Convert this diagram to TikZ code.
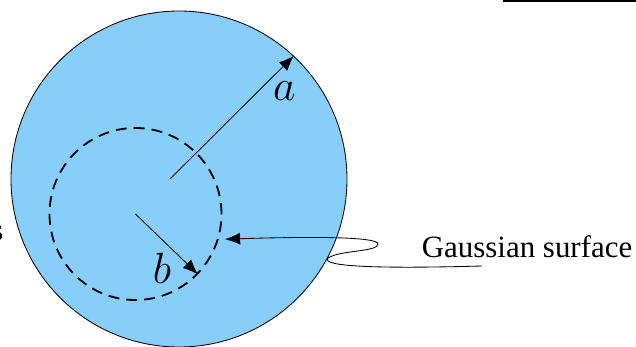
\documentclass[tikz,border=0pt]{standalone}
\usepackage{fontspec}
\setmainfont{Liberation Serif}
\usetikzlibrary{arrows.meta}
\definecolor{skyfill}{RGB}{135,206,250}
\newcommand{\biglbl}[1]{\scalebox{1.25}{$#1$}}

\begin{document}
\begin{tikzpicture}[
		ptr/.style={line width=.6pt,-{Latex[length=3.8mm,width=3mm]}},
		lbl/.style={font=\Huge,inner sep=0pt}
	]
			\useasboundingbox (0,0) rectangle (15.9,8.65);
			% sphere of charge
			\node[circle,draw,line width=.6pt,fill=skyfill,minimum size=8.4cm,inner sep=0pt] (outer) at (4.475,4.175) {};
			% gaussian surface
			\node[circle,draw,dash pattern=on 2.75mm off 1.75mm,line width=1.3pt,minimum size=4.3cm,inner sep=0pt] (inner) at (3.3875,3.3) {};
			% radius a
			\coordinate (astart) at (4.25,4.175);
			\draw[ptr] (astart) -- (outer.47);
			\node[lbl] (alabel) at (7.11,6.375) {\biglbl{a}};
			% radius b
			\draw[ptr] (inner.center) -- (inner.-44);
			\node[lbl] (blabel) at (4.05,1.95) {\biglbl{b}};
			% label
			\node[anchor=base west,inner sep=0pt,font=\fontsize{22}{26}\selectfont] (gauss) at (10.54,2.217) {Gaussian surface};
			\node[anchor=base east,inner sep=0pt,font=\fontsize{22}{26}\selectfont] (cut) at (0.09,2.65) {s};
			\coordinate (gstart) at (12.05,2.0);
			\draw[ptr,shorten >=4.5pt] (gstart) .. controls (9.5,1.93) and (8.0,1.98) .. (8.2,2.2)
				.. controls (8.5,2.4) and (9.45,2.35) .. (9.45,2.55)
				.. controls (9.45,2.75) and (7.5,2.73) .. (inner.-17);
			% top rule
			\draw[line width=1.4pt] (12.57,8.625) -- (15.9,8.625);
		\end{tikzpicture}
\end{document}
